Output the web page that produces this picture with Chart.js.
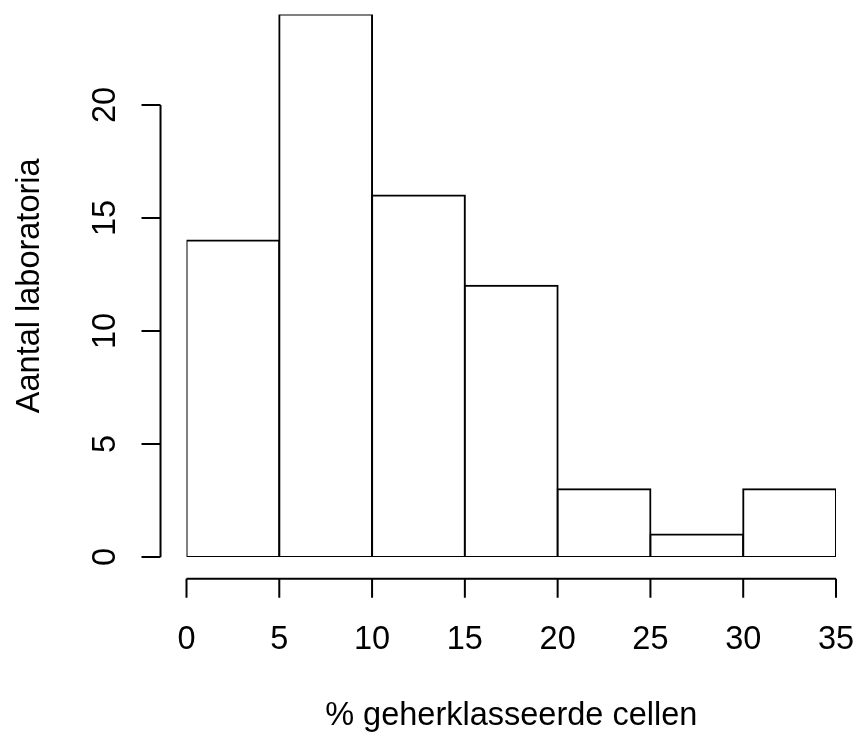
<!DOCTYPE html>
<html>
<head>
<meta charset="utf-8">
<script src="https://cdn.jsdelivr.net/npm/chart.js@4"></script>
<style>
  body { margin: 0; background: #ffffff; }
  canvas { display: block; }
</style>
</head>
<body>
<canvas id="histChart" width="858" height="734"></canvas>
<script>
const binStarts = [0, 5, 10, 15, 20, 25, 30];
const binEnds = [5, 10, 15, 20, 25, 30, 35];
const counts = [14, 24, 16, 12, 3, 1, 3];
const xTicks = [0, 5, 10, 15, 20, 25, 30, 35];
const yTicks = [0, 5, 10, 15, 20];
const xTitle = '% geherklasseerde cellen';
const yTitle = 'Aantal laboratoria';

const FONT = '32.5px "Liberation Sans", Arial, sans-serif';

// R draws its axes outside the data range, 4% of the range away
const xPad = (binEnds[binEnds.length - 1] - binStarts[0]) * 0.04;
const yPad = Math.max(...counts) * 0.04;

const rAxes = {
  id: 'rAxes',
  afterDraw(chart) {
    const {ctx, scales: {x, y}} = chart;
    ctx.save();
    ctx.strokeStyle = '#000';
    ctx.fillStyle = '#000';
    ctx.lineWidth = 2;
    ctx.font = FONT;

    // x axis
    const ax = y.getPixelForValue(-yPad);
    ctx.beginPath();
    ctx.moveTo(x.getPixelForValue(xTicks[0]), ax);
    ctx.lineTo(x.getPixelForValue(xTicks[xTicks.length - 1]), ax);
    xTicks.forEach(v => {
      const px = x.getPixelForValue(v);
      ctx.moveTo(px, ax);
      ctx.lineTo(px, ax + 19);
    });
    ctx.stroke();
    ctx.textAlign = 'center';
    ctx.textBaseline = 'alphabetic';
    xTicks.forEach(v => ctx.fillText(String(v), x.getPixelForValue(v), ax + 70));

    // y axis
    const ay = x.getPixelForValue(-xPad);
    ctx.beginPath();
    ctx.moveTo(ay, y.getPixelForValue(yTicks[0]));
    ctx.lineTo(ay, y.getPixelForValue(yTicks[yTicks.length - 1]));
    yTicks.forEach(v => {
      const py = y.getPixelForValue(v);
      ctx.moveTo(ay, py);
      ctx.lineTo(ay - 19, py);
    });
    ctx.stroke();
    yTicks.forEach(v => {
      ctx.save();
      ctx.translate(ay - 46, y.getPixelForValue(v));
      ctx.rotate(-Math.PI / 2);
      ctx.fillText(String(v), 0, 0);
      ctx.restore();
    });

    // titles
    const midX = (x.getPixelForValue(-xPad) + x.getPixelForValue(x.max + xPad)) / 2;
    ctx.fillText(xTitle, midX, ax + 146);
    const midY = (y.getPixelForValue(-yPad) + y.getPixelForValue(y.max + yPad)) / 2;
    ctx.save();
    ctx.translate(39, midY);
    ctx.rotate(-Math.PI / 2);
    ctx.fillText(yTitle, 0, 0);
    ctx.restore();
    ctx.restore();
  }
};

const histData = {
  datasets: [{
    label: yTitle,
    data: counts.map((c, i) => ({x: (binStarts[i] + binEnds[i]) / 2, y: c})),
    backgroundColor: '#ffffff',
    borderColor: '#000000',
    borderWidth: 2,
    borderSkipped: false,
    inflateAmount: 1,
    barPercentage: 1,
    categoryPercentage: 1
  }]
};

const configHist = {
  type: 'bar',
  data: histData,
  options: {
    responsive: false,
    animation: false,
    devicePixelRatio: 1,
    layout: {
      padding: {left: 186.5, right: 22, top: 14.6, bottom: 177}
    },
    plugins: {
      legend: {display: false},
      tooltip: {enabled: false}
    },
    scales: {
      x: {
        type: 'linear',
        display: false,
        offset: false,
        min: binStarts[0],
        max: binEnds[binEnds.length - 1],
        ticks: {stepSize: 5}
      },
      y: {
        display: false,
        min: 0,
        max: 24,
        ticks: {stepSize: 5}
      }
    }
  },
  plugins: [rAxes]
};

const histChart = new Chart(
  document.getElementById('histChart'),
  configHist
);
</script>
</body>
</html>
